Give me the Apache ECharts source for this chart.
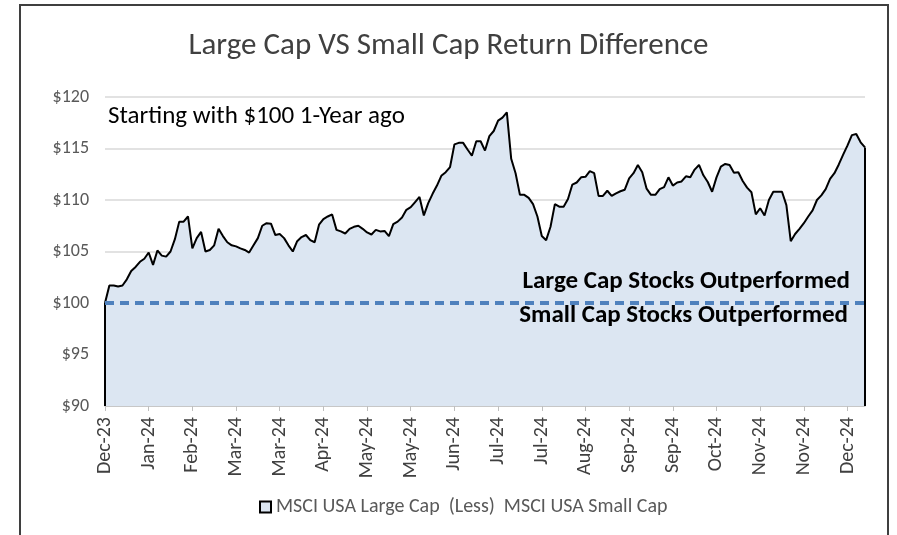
<!DOCTYPE html>
<html>
<head>
<meta charset="utf-8">
<script src="https://cdn.jsdelivr.net/npm/echarts@6/dist/echarts.min.js"></script>
<style>
  html, body { margin: 0; padding: 0; background: #fff; }
  #chart { width: 897px; height: 535px; }
</style>
</head>
<body>
<div id="chart"></div>
<script>
// month labels, one every 10 points
const tickLabels = ['Dec-23','Jan-24','Feb-24','Mar-24','Mar-24','Apr-24','May-24','May-24','Jun-24',
    'Jul-24','Jul-24','Aug-24','Sep-24','Sep-24','Oct-24','Nov-24','Nov-24','Dec-24'];
const labelStep = 10;

// growth of $100, large cap less small cap
const values = [
    100.0, 101.7, 101.7, 101.6, 101.7, 102.3, 103.1, 103.5, 104.0, 104.3,
    104.9, 103.7, 105.1, 104.6, 104.5, 105.0, 106.2, 107.9, 107.9, 108.4,
    105.3, 106.3, 106.9, 105.0, 105.15, 105.6, 107.2, 106.5, 105.9, 105.6,
    105.5, 105.3, 105.15, 104.9, 105.6, 106.3, 107.5, 107.75, 107.7, 106.6,
    106.7, 106.3, 105.6, 105.0, 106.0, 106.4, 106.6, 106.1, 105.9, 107.6,
    108.15, 108.4, 108.6, 107.1, 106.95, 106.75, 107.2, 107.4, 107.5, 107.2,
    106.85, 106.65, 107.1, 106.95, 107.0, 106.5, 107.65, 107.9, 108.3, 109.05,
    109.3, 109.8, 110.3, 108.5, 109.7, 110.6, 111.4, 112.35, 112.7, 113.2,
    115.4, 115.55, 115.55, 114.9, 114.3, 115.7, 115.7, 114.8, 116.2, 116.7,
    117.7, 118.0, 118.5, 114.0, 112.6, 110.5, 110.5, 110.2, 109.6, 108.4,
    106.5, 106.1, 107.4, 109.6, 109.35, 109.35, 110.1, 111.5, 111.7, 112.2,
    112.25, 112.8, 112.6, 110.4, 110.4, 110.9, 110.4, 110.65, 110.85, 111.0,
    112.1, 112.6, 113.4, 112.7, 111.1, 110.5, 110.5, 111.05, 111.25, 112.2,
    111.4, 111.7, 111.8, 112.3, 112.2, 112.95, 113.4, 112.4, 111.75, 110.8,
    112.2, 113.25, 113.5, 113.4, 112.65, 112.7, 111.85, 111.2, 110.75, 108.6,
    109.2, 108.5, 110.0, 110.8, 110.8, 110.8, 109.5, 106.0, 106.7, 107.2,
    107.75, 108.4, 109.0, 110.0, 110.45, 111.05, 112.05, 112.6, 113.45, 114.4,
    115.3, 116.3, 116.4, 115.6, 115.1
];

const seriesName = 'MSCI USA Large Cap  (Less)  MSCI USA Small Cap';
const baseline = 100;
const yMin = 90, yMax = 120, yStep = 5;

const categories = values.map(function(v, i){
    return i % labelStep === 0 ? (tickLabels[i / labelStep] || '') : 'd' + i;
});
const lastIdx = values.length - 1;
const fontFamily = 'Carlito, Lato, "Open Sans", sans-serif';

let myChart = echarts.init(document.getElementById('chart'), null, {renderer: 'canvas'});

let option = {
    animation: false,
    textStyle: {fontFamily: fontFamily},
    title: {
        text: 'Large Cap VS Small Cap Return Difference',
        left: 'center',
        top: 26,
        textStyle: {fontFamily: fontFamily, fontSize: 31, fontWeight: 'normal', color: '#404040'}
    },
    legend: {
        left: 254,
        top: 492,
        itemWidth: 11,
        itemHeight: 11,
        itemGap: 6,
        selectedMode: false,
        data: [{
            name: seriesName,
            icon: 'rect',
            itemStyle: {color: '#DCE6F2', borderColor: '#000', borderWidth: 2}
        }],
        textStyle: {fontFamily: fontFamily, fontSize: 20, color: '#595959'}
    },
    grid: {left: 105, right: 32, top: 97, height: 309},
    xAxis: {
        type: 'category',
        data: categories,
        boundaryGap: false,
        axisLine: {lineStyle: {color: '#BFBFBF', width: 1.5}},
        axisTick: {
            show: true,
            length: 5,
            interval: function(i){ return i % labelStep === 0; },
            lineStyle: {color: '#BFBFBF'}
        },
        axisLabel: {
            rotate: 90,
            margin: 11,
            interval: function(i){ return i % labelStep === 0; },
            fontFamily: fontFamily,
            fontSize: 20,
            color: '#404040'
        }
    },
    yAxis: {
        type: 'value',
        min: yMin,
        max: yMax,
        interval: yStep,
        axisLine: {show: false},
        axisTick: {show: false},
        splitLine: {lineStyle: {color: '#D9D9D9', width: 1.5}},
        axisLabel: {
            margin: 16,
            formatter: function(v){ return '$' + v; },
            fontFamily: fontFamily,
            fontSize: 18,
            color: '#595959'
        }
    },
    series: [{
        name: seriesName,
        type: 'line',
        data: values,
        symbol: 'none',
        lineStyle: {color: '#000', width: 2},
        itemStyle: {color: '#DCE6F2'},
        areaStyle: {color: '#DCE6F2', opacity: 1, origin: 'start'},
        markLine: {
            silent: true,
            symbol: 'none',
            label: {show: false},
            data: [
                [{coord: [0, yMin]}, {coord: [0, values[0]], lineStyle: {color: '#000', width: 2, type: 'solid'}}],
                [{coord: [lastIdx, yMin]}, {coord: [lastIdx, values[lastIdx]], lineStyle: {color: '#000', width: 2, type: 'solid'}}],
                {yAxis: baseline, lineStyle: {color: '#4F81BD', width: 4, type: [9, 6]}}
            ]
        },
        z: 2
    }],
    graphic: [
        {
            type: 'rect',
            shape: {x: 20, y: 5, width: 868, height: 545},
            style: {fill: 'none', stroke: '#3F3F3F', lineWidth: 2},
            silent: true
        },
        {
            type: 'text',
            left: 108, top: 104,
            style: {text: 'Starting with $100 1-Year ago', fontFamily: fontFamily, fontSize: 25, fill: '#000'},
            z: 10
        },
        {
            type: 'text',
            right: 47, top: 269,
            style: {text: 'Large Cap Stocks Outperformed', fontFamily: fontFamily, fontSize: 25, fontWeight: 'bold', fill: '#000'},
            z: 10
        },
        {
            type: 'text',
            right: 49, top: 303,
            style: {text: 'Small Cap Stocks Outperformed', fontFamily: fontFamily, fontSize: 25, fontWeight: 'bold', fill: '#000'},
            z: 10
        }
    ]
};

myChart.setOption(option);
window.addEventListener('resize', () => {
    myChart.resize();
});
</script>
</body>
</html>
